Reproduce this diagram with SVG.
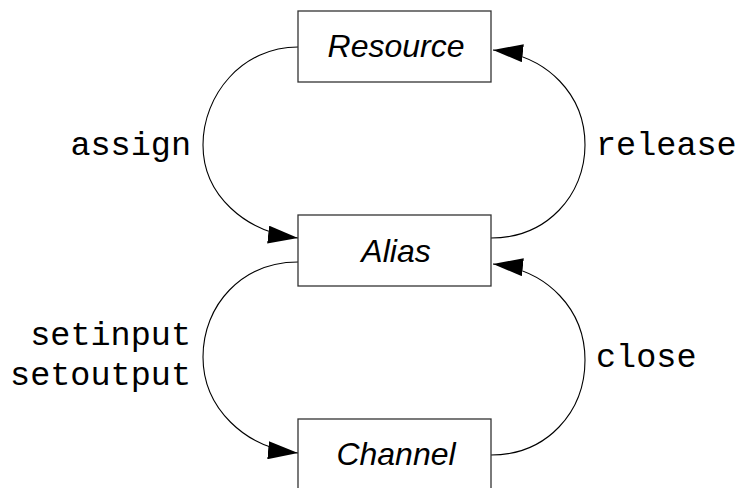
<svg xmlns="http://www.w3.org/2000/svg" width="740" height="488" viewBox="0 0 740 488">
  <style>
    .box { fill: #ffffff; stroke: #333333; stroke-width: 1.3; }
    .name { font-family: "Liberation Sans", Arial, sans-serif; font-style: italic; font-size: 32px; fill: #000000; text-anchor: middle; }
    .op { font-family: "Liberation Mono", "Courier New", monospace; font-size: 33.5px; fill: #000000; }
    .edge { fill: none; stroke: #000000; stroke-width: 1.1; marker-end: url(#head); }
  </style>
  <defs>
    <marker id="head" markerUnits="userSpaceOnUse" markerWidth="30" markerHeight="18" refX="30" refY="9" orient="auto">
      <path d="M0,0 L30,9 L0,18 z" fill="#000000"/>
    </marker>
  </defs>
  <rect width="740" height="488" fill="#ffffff"/>

  <g id="connectors">
    <!-- assign: Resource -> Alias -->
    <path class="edge" d="M298,47 C242,47 203,95 203,145 C203,195 245,232 298,238"/>
    <!-- release: Alias -> Resource -->
    <path class="edge" d="M491,238 C547,238 585,195 585,145 C585,95 548,56 493,50"/>
    <!-- setinput / setoutput: Alias -> Channel -->
    <path class="edge" d="M298,262 C242,262 203,305 203,357 C203,408 245,448 298,453"/>
    <!-- close: Channel -> Alias -->
    <path class="edge" d="M491,455 C547,455 585,412 585,360 C585,310 548,270 493,264"/>
  </g>

  <g id="resource">
    <rect class="box" x="298" y="11" width="193" height="71"/>
    <text class="name" x="396" y="57">Resource</text>
  </g>
  <g id="alias">
    <rect class="box" x="298" y="215" width="193" height="71"/>
    <text class="name" x="396" y="262">Alias</text>
  </g>
  <g id="channel">
    <rect class="box" x="298" y="419" width="193" height="71"/>
    <text class="name" x="396" y="465">Channel</text>
  </g>

  <g id="labels">
    <text class="op" x="191" y="155" text-anchor="end">assign</text>
    <text class="op" x="596" y="155">release</text>
    <text class="op" x="191" y="345" text-anchor="end">setinput</text>
    <text class="op" x="191" y="385" text-anchor="end">setoutput</text>
    <text class="op" x="596" y="367">close</text>
  </g>
</svg>
